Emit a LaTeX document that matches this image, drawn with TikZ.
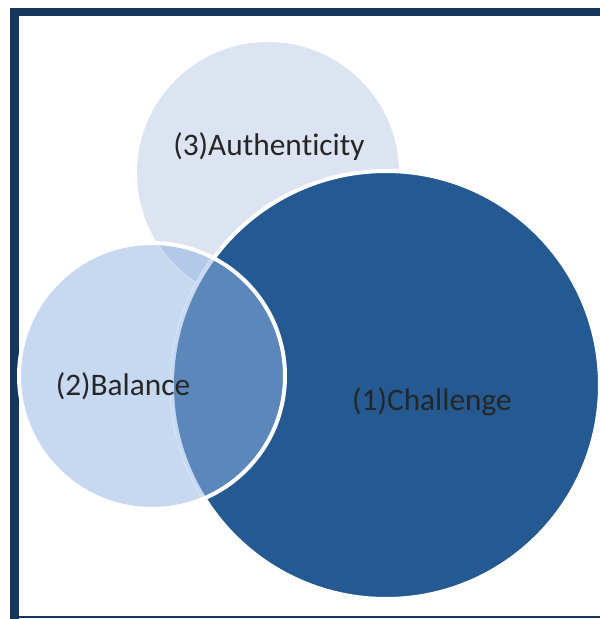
\documentclass[tikz,border=0pt]{standalone}
\usepackage{fontspec}
\setmainfont{Carlito}[Ligatures={NoCommon,NoRare,NoContextual}]
\definecolor{framenavy}{RGB}{23,54,93}
\definecolor{authfill}{RGB}{220,228,241}
\definecolor{challfill}{RGB}{36,89,145}
\definecolor{balfill}{RGB}{198,217,240}
\definecolor{balauth}{RGB}{180,201,231}
\definecolor{balchall}{RGB}{91,135,186}
\definecolor{labeltext}{RGB}{38,38,38}
\tikzset{venntext/.style={text=labeltext,font=\fontsize{23.5}{28}\selectfont,anchor=base,inner sep=0pt}}

\begin{document}
\begin{tikzpicture}[x=0.75pt,y=-0.75pt]
\useasboundingbox (0,0) rectangle (600,619);
\fill[framenavy] (10,8) rectangle (600,16);
\fill[framenavy] (10,8) rectangle (18.6,619);
\draw[framenavy,line width=1.5pt] (16,617) -- (600,617);
\coordinate (auth) at (268,173);
\coordinate (chall) at (386,385);
\coordinate (bal) at (152,376);
\fill[authfill] (auth) circle[radius=131];
\draw[white,line width=3pt,fill=challfill] (chall) circle[radius=214];
\fill[balfill] (bal) circle[radius=133];
\begin{scope}
\clip (bal) circle[radius=133];
\fill[balauth] (auth) circle[radius=131];
\draw[white,opacity=.5,line width=.4pt] (auth) circle[radius=131];
\fill[balfill] (chall) circle[radius=216];
\fill[balchall] (chall) circle[radius=212];
\draw[white,opacity=.5,line width=.4pt] (chall) circle[radius=216];
\end{scope}
\draw[white,line width=3pt] (bal) circle[radius=133];
\node[venntext] (authlabel) at (269,155) {(3)Authen\kern0pt ti\kern0pt city};
\node[venntext] (challlabel) at (432,410) {(1)Challenge};
\node[venntext] (ballabel) at (123,395) {(2)Balance};
\end{tikzpicture}
\end{document}
